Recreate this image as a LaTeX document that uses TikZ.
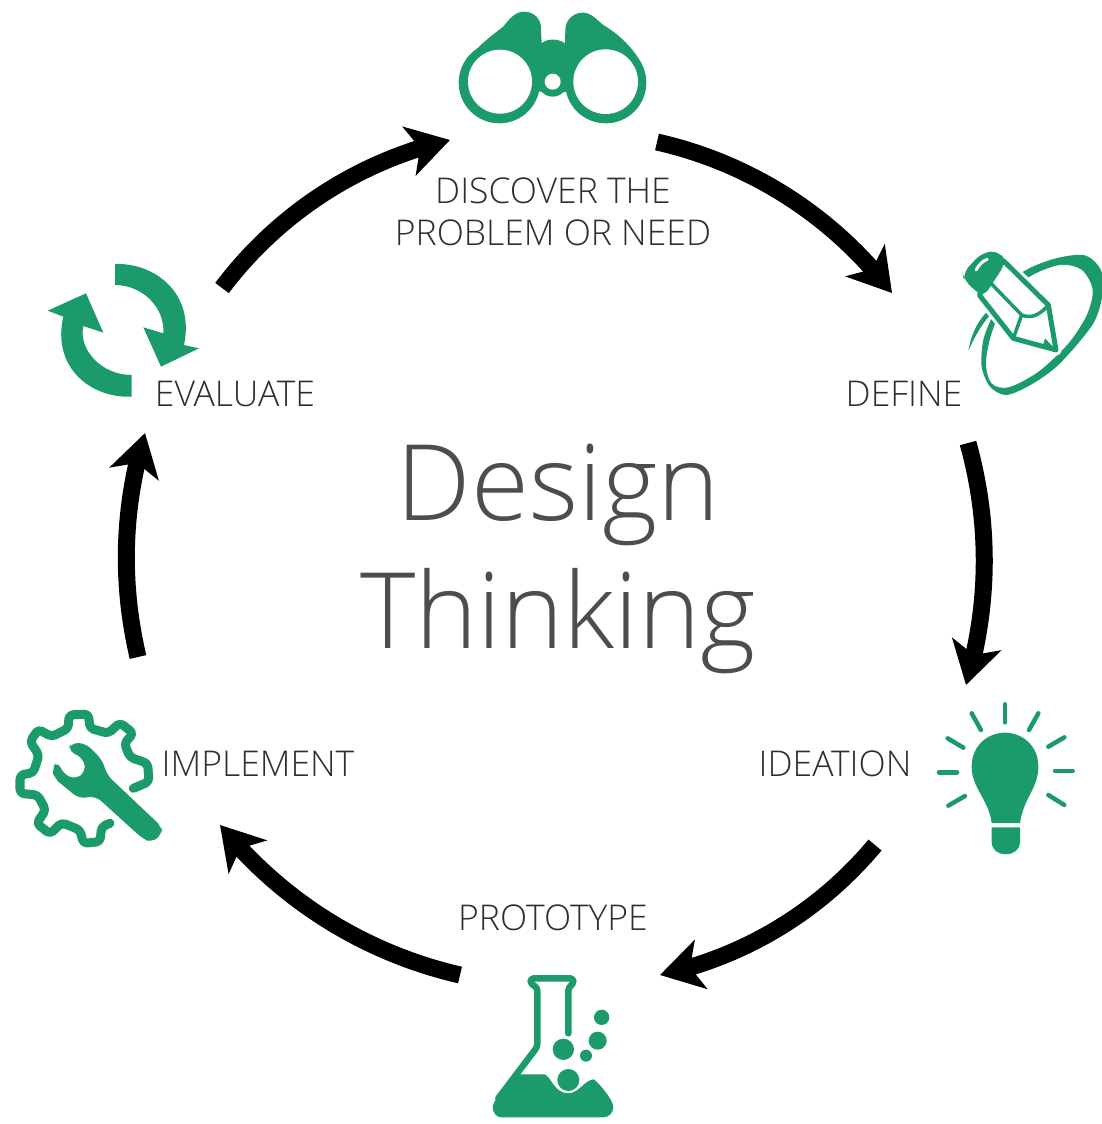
\documentclass[tikz,border=0pt]{standalone}
\usepackage{fontspec}
\setmainfont{Open Sans Light}
\usetikzlibrary{arrows.meta, bending}
\definecolor{dtgreen}{HTML}{1A9B69}
\definecolor{dtgrey}{HTML}{2E2E2E}
\definecolor{dttitle}{HTML}{4D4D4D}
\tikzset{
	cyclearrow/.style={line width=17pt, black, looseness=0.88, -{Stealth[length=42pt, width=50pt, inset=11pt, flex=1]}},
	steplabel/.style={text=dtgrey, align=center, inner sep=0pt, font=\fontsize{35.5}{42}\selectfont},
	titlelabel/.style={text=dttitle, align=center, inner sep=0pt, font=\fontsize{105.5}{128}\selectfont},
	icongreen/.style={fill=dtgreen, draw=none},
	iconline/.style={draw=dtgreen, line cap=round, line join=round}
}
\begin{document}
\begin{tikzpicture}[x=1pt, y=-1pt]
	\useasboundingbox (0, 0) rectangle (1102, 1124); % Explicit bounding box
	\node[titlelabel] (title) at (558, 559) {Design\\Thinking};
	\node[steplabel] (discover) at (553, 212) {DISCOVER THE\\PROBLEM OR NEED};
	\node[steplabel] (define) at (904, 394) {DEFINE};
	\node[steplabel] (ideation) at (835, 764) {IDEATION};
	\node[steplabel] (prototype) at (553, 918) {PROTOTYPE};
	\node[steplabel] (implement) at (258, 764) {IMPLEMENT};
	\node[steplabel] (evaluate) at (235, 394) {EVALUATE};

	% ends of the cycle arrows
	\coordinate (e1) at (222, 288);
	\coordinate (d1) at (450, 140);
	\coordinate (d2) at (657, 142);
	\coordinate (f1) at (892, 293);
	\coordinate (f2) at (968, 443);
	\coordinate (i1) at (966, 685);
	\coordinate (i2) at (875, 845);
	\coordinate (p1) at (660, 975);
	\coordinate (p2) at (460, 975);
	\coordinate (m1) at (220, 825);
	\coordinate (m2) at (138, 657);
	\coordinate (e2) at (145, 433);
	\draw[cyclearrow] (e1) to[bend left=20] (d1);
	\draw[cyclearrow] (d2) to[bend left=20] (f1);
	\draw[cyclearrow] (f2) to[bend left=16] (i1);
	\draw[cyclearrow] (i2) to[bend left=19] (p1);
	\draw[cyclearrow] (p2) to[bend left=19] (m1);
	\draw[cyclearrow] (m2) to[bend left=15] (e2);

	% binoculars
	\begin{scope}[shift={(440, 0)}, scale=1/3]
		\fill[icongreen] (60,240) .. controls (62,180) and (130,125) .. (190,80) .. controls (205,60) and (225,35) .. (252,35) .. controls (285,35) and (305,60) .. (303,90) -- (305,130) .. controls (320,115) and (355,115) .. (375,130) -- (376,90) .. controls (376,60) and (400,38) .. (428,38) .. controls (455,38) and (470,60) .. (490,75) .. controls (550,110) and (618,180) .. (618,245) -- (338,280) -- cycle;
		\fill[icongreen] (178,248) circle (122);
		\fill[icongreen] (497,248) circle (122);
		\fill[icongreen] (338,245) circle (45);
		\fill[white] (180,245) circle (96);
		\fill[white] (497,245) circle (97);
		\fill[white] (338,245) circle (24);
	\end{scope}

	% pencil and ring
	\begin{scope}[shift={(950, 240)}, scale=1/3]
		\fill[icongreen] plot[smooth cycle] coordinates {(400,45) (450,85) (460,150) (430,250) (330,370) (250,430) (170,465) (120,440) (95,380) (100,300) (130,225) (200,110) (300,60)};
		\fill[white] plot[smooth cycle] coordinates {(395,90) (428,150) (410,225) (355,310) (265,395) (175,442) (125,430) (108,370) (125,280) (170,180) (240,110) (330,75)};
		\fill[icongreen] (55,332) .. controls (65,280) and (80,250) .. (108,218) -- (118,228) .. controls (90,260) and (75,290) .. (55,332) -- cycle;
		\draw[white, line width=11pt, line join=round] (88,165) -- (160,62) -- (295,195) -- (318,330) -- (190,295) -- cycle;
		\draw[iconline, line width=5pt, fill=white] (88,165) -- (160,62) -- (295,195) -- (318,330) -- (190,295) -- cycle;
		\draw[iconline, line width=3.5pt] (118,125) -- (215,225) -- (190,295) (215,225) .. controls (240,235) and (265,230) .. (295,195);
		\fill[icongreen] (285,295) -- (318,330) -- (278,318) -- cycle;
		\fill[icongreen, rounded corners=9pt] (38,100) -- (95,38) -- (148,32) -- (168,68) -- (100,172) -- (42,122) -- cycle;
		\draw[white, line width=3pt, line cap=round] (78,90) .. controls (88,72) and (100,62) .. (112,58);
	\end{scope}

	% light bulb
	\begin{scope}[shift={(925, 695)}, scale=1/3]
		\fill[icongreen] (200,384) .. controls (190,310) and (140,280) .. (140,215) .. controls (140,150) and (190,113) .. (240,113) .. controls (290,113) and (340,150) .. (340,215) .. controls (340,280) and (295,310) .. (285,384) -- cycle;
		\fill[icongreen] (200,397) -- (285,397) -- (285,440) .. controls (285,465) and (265,478) .. (242,478) .. controls (220,478) and (200,465) .. (200,440) -- cycle;
		\foreach \xa/\ya/\xb/\yb in {240/28/240/82, 140/55/168/105, 340/55/312/105, 68/130/115/158, 418/127/370/155, 42/232/96/232, 390/228/443/228, 70/332/120/303, 370/300/418/330}
			\draw[iconline, line width=4.5pt] (\xa,\ya) -- (\xb,\yb);
	\end{scope}

	% flask
	\begin{scope}[shift={(480, 965)}, scale=1/3]
		\draw[iconline, line width=6.5pt, rounded corners=3pt] (265,205) -- (265,68) -- (280,56) -- (280,40) -- (152,40) -- (152,56) -- (172,68) -- (172,245) -- (55,400);
		\fill[icongreen] (38,425) .. controls (40,410) and (60,385) .. (105,328) -- (195,328) .. controls (215,340) and (225,385) .. (265,385) .. controls (295,385) and (315,345) .. (340,343) .. controls (350,345) and (400,405) .. (400,425) .. controls (400,445) and (385,457) .. (370,457) -- (65,457) .. controls (50,457) and (38,445) .. (38,425) -- cycle;
		\fill[icongreen] (365,157) circle (23);
		\fill[icongreen] (353,227) circle (27);
		\fill[icongreen] (318,272) circle (18);
		\fill[icongreen] (250,253) circle (32);
		\fill[icongreen] (265,345) circle (33);
	\end{scope}

	% gear and wrench
	\begin{scope}[shift={(5, 700)}, scale=1/3]
		\draw[iconline, line width=9pt, rounded corners=4pt] (385,265) -- (432,245) -- (428,190) -- (375,172) -- (358,130) -- (385,100) -- (345,68) -- (310,100) -- (255,85) -- (250,42) -- (192,45) -- (190,85) -- (140,110) -- (100,88) -- (75,125) -- (102,165) -- (85,218) -- (45,225) -- (45,280) -- (98,285) -- (122,330) -- (95,370) -- (135,402) -- (170,368) -- (225,390) -- (235,430) -- (285,425) -- (290,380) -- (315,370);
		\fill[icongreen, rounded corners=7pt] (188,150) -- (200,128) -- (242,130) -- (292,180) -- (306,225) -- (470,380) -- (472,402) -- (440,428) -- (412,415) -- (272,288) -- (222,296) -- (148,235) -- (140,205) -- (158,183) -- (175,222) -- (212,238) -- (242,215) -- (236,176) -- cycle;
	\end{scope}

	% refresh arrows
	\begin{scope}[shift={(35, 250)}, scale=1/3]
		\fill[icongreen] (240,42) .. controls (360,38) and (480,130) .. (447,285) -- (492,295) -- (378,350) -- (325,232) -- (385,250) .. controls (390,170) and (320,105) .. (240,105) -- cycle;
		\fill[icongreen] (290,440) .. controls (165,445) and (50,350) .. (85,200) -- (38,182) -- (153,130) -- (205,248) -- (145,228) .. controls (130,300) and (200,375) .. (290,375) -- cycle;
	\end{scope}
\end{tikzpicture}
\end{document}
